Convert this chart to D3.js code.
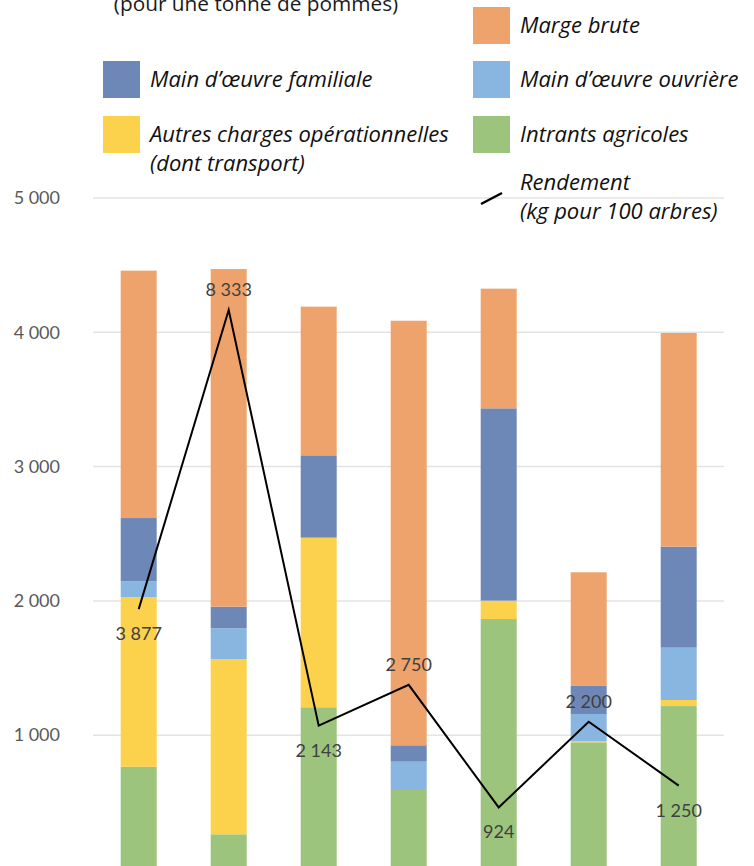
<!DOCTYPE html>
<html>
<head>
<meta charset="utf-8">
<script src="https://cdn.jsdelivr.net/npm/d3@7"></script>
<style>
  html, body { margin: 0; padding: 0; background: #fff; }
  svg { display: block; }
</style>
</head>
<body>
<svg id="chart" width="754" height="866"></svg>
<script>
// Exploitations (one stacked bar each)
const categories = ["1", "2", "3", "4", "5", "6", "7"];

// Cost breakdown per tonne of apples, stacked bottom to top
const intrantsAgricoles   = [765, 262, 1208, 592, 1865, 947, 1217];
const autresCharges       = [1263, 1305, 1263, 0, 137, 8, 45];
const mainOeuvreOuvriere  = [118, 229, 0, 211, 0, 203, 390];
const mainOeuvreFamiliale = [471, 161, 613, 122, 1432, 209, 752];
const margeBrute          = [1842, 2514, 1107, 3161, 891, 846, 1591];

// Yield, kg per 100 trees (secondary scale)
const rendement = [3877, 8333, 2143, 2750, 924, 2200, 1250];

const gridTicks = [0, 1000, 2000, 3000, 4000, 5000];
const yTickLabels = [1000, 2000, 3000, 4000, 5000];

const seriesKeys   = ["intrants", "autres", "ouvriere", "familiale", "marge"];
const seriesValues = [intrantsAgricoles, autresCharges, mainOeuvreOuvriere, mainOeuvreFamiliale, margeBrute];
const seriesColors = ["#9CC47D", "#FCD14C", "#89B6E0", "#6D88B6", "#EFA36C"];

const fr = d3.formatLocale({ decimal: ",", thousands: " ", grouping: [3], currency: ["", " €"] });
const fmt = fr.format(",.0f");

const svg = d3.select("#chart");

const x = d3.scaleBand()
  .domain(categories)
  .range([93.7, 723.7])
  .paddingInner(0.6)
  .paddingOuter(0.3);

const y = d3.scaleLinear().domain([0, 5000]).range([869.5, 198]);
const y2 = d3.scaleLinear().domain([0, 10000]).range([869.5, 198]);

// Horizontal gridlines
svg.append("g")
  .selectAll("line")
  .data(gridTicks)
  .join("line")
  .attr("x1", 93).attr("x2", 723.7)
  .attr("y1", d => y(d)).attr("y2", d => y(d))
  .attr("stroke", "#E3E3E3")
  .attr("stroke-width", 1.5);

// Y axis labels
const yAxis = d3.axisLeft(y).tickValues(yTickLabels).tickFormat(fmt).tickSize(0).tickPadding(0);
const yAxisG = svg.append("g")
  .attr("transform", "translate(60,0)")
  .call(yAxis);
yAxisG.select(".domain").remove();
yAxisG.selectAll("text")
  .attr("fill", "#595959")
  .style("font-family", "Lato, 'Open Sans', sans-serif")
  .style("font-size", "18px");

// Stacked bars
const rows = categories.map((c, i) => {
  const r = { cat: c };
  seriesKeys.forEach((k, j) => { r[k] = seriesValues[j][i]; });
  return r;
});
const stacked = d3.stack().keys(seriesKeys)(rows);

svg.append("g")
  .selectAll("g")
  .data(stacked)
  .join("g")
  .attr("fill", (d, i) => seriesColors[i])
  .selectAll("rect")
  .data(d => d)
  .join("rect")
  .attr("x", d => x(d.data.cat))
  .attr("width", x.bandwidth())
  .attr("y", d => y(d[1]))
  .attr("height", d => Math.max(0, y(d[0]) - y(d[1])));

// Yield line
const cx = c => x(c) + x.bandwidth() / 2;
const line = d3.line()
  .x((d, i) => cx(categories[i]))
  .y(d => y2(d));

svg.append("path")
  .datum(rendement)
  .attr("d", line)
  .attr("fill", "none")
  .attr("stroke", "#000")
  .attr("stroke-width", 2)
  .attr("stroke-linejoin", "miter");

// Yield labels: above for 2nd, 4th, 6th points, below otherwise
const labelAbove = [false, true, false, true, false, true, false];
svg.append("g")
  .selectAll("text")
  .data(rendement)
  .join("text")
  .attr("x", (d, i) => cx(categories[i]))
  .attr("y", (d, i) => y2(d) + (labelAbove[i] ? -21 : 24))
  .attr("text-anchor", "middle")
  .attr("dominant-baseline", "central")
  .attr("fill", "#404040")
  .style("font-family", "Lato, 'Open Sans', sans-serif")
  .style("font-size", "18px")
  .text(d => fmt(d));

// Subtitle (unit)
svg.append("text")
  .attr("x", 256)
  .attr("y", 11)
  .attr("text-anchor", "middle")
  .attr("fill", "#1a1a1a")
  .style("font-family", "'Open Sans', Lato, sans-serif")
  .style("font-size", "20.8px")
  .text("(pour une tonne de pommes)");

// Legend
const legendItems = [
  { label: ["Marge brute"], color: seriesColors[4], x: 473, y: 7 },
  { label: ["Main d\u2019\u0153uvre familiale"], color: seriesColors[3], x: 103, y: 61 },
  { label: ["Main d\u2019\u0153uvre ouvri\u00e8re"], color: seriesColors[2], x: 473, y: 61 },
  { label: ["Autres charges op\u00e9rationnelles", "(dont transport)"], color: seriesColors[1], x: 103, y: 116 },
  { label: ["Intrants agricoles"], color: seriesColors[0], x: 473, y: 116 }
];

const lg = svg.append("g")
  .style("font-family", "'Open Sans', Lato, sans-serif")
  .style("font-style", "italic")
  .style("font-size", "22px");

const items = lg.selectAll("g.item")
  .data(legendItems)
  .join("g")
  .attr("class", "item")
  .attr("transform", d => `translate(${d.x},${d.y})`);

items.append("rect")
  .attr("width", 37).attr("height", 37)
  .attr("fill", d => d.color);

items.append("text")
  .attr("x", 47)
  .attr("y", 26)
  .attr("fill", "#111")
  .selectAll("tspan")
  .data(d => d.label)
  .join("tspan")
  .attr("x", 47)
  .attr("dy", (d, i) => i === 0 ? 0 : 28.5)
  .text(d => d);

// Line legend entry
const lineLegend = lg.append("g").attr("transform", "translate(473,0)");
lineLegend.append("line")
  .attr("x1", 8).attr("y1", 204)
  .attr("x2", 29).attr("y2", 193)
  .attr("stroke", "#000")
  .attr("stroke-width", 2.5);
lineLegend.append("text")
  .attr("fill", "#111")
  .selectAll("tspan")
  .data(["Rendement", "(kg pour 100 arbres)"])
  .join("tspan")
  .attr("x", 47)
  .attr("y", (d, i) => 190 + i * 28.5)
  .text(d => d);
</script>
</body>
</html>
